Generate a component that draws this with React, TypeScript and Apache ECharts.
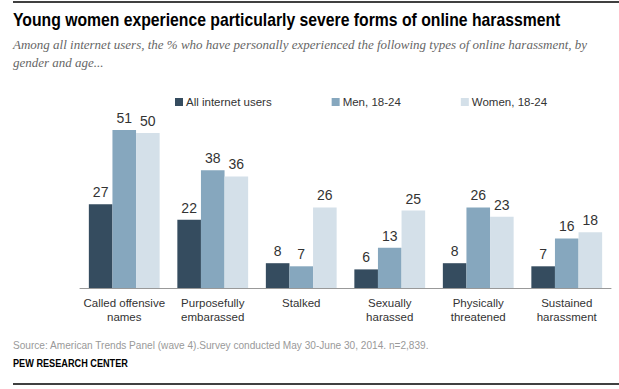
import React, { useEffect, useRef } from "react";
import * as echarts from "echarts";

const categories = [
  "Called offensive\nnames",
  "Purposefully\nembarassed",
  "Stalked",
  "Sexually\nharassed",
  "Physically\nthreatened",
  "Sustained\nharassment",
];
const allUsers = [27, 22, 8, 6, 8, 7];
const men1824 = [51, 38, 7, 13, 26, 16];
const women1824 = [50, 36, 26, 25, 23, 18];
const seriesNames = ["All internet users", "Men, 18-24", "Women, 18-24"];
const colors = ["#354C5F", "#86A7BE", "#D4E0E9"];

const title = "Young women experience particularly severe forms of online harassment";
const subtitle1 =
  "Among all internet users, the % who have personally experienced the following types of online harassment, by";
const subtitle2 = "gender and age...";
const source =
  "Source: American Trends Panel (wave 4).Survey conducted May 30-June 30, 2014. n=2,839.";
const credit = "PEW RESEARCH CENTER";

function fitScale(text: string, font: string, target: number) {
  const c = document.createElement("canvas").getContext("2d");
  if (!c) return 1;
  c.font = font;
  const w = c.measureText(text).width;
  return w > 0 ? target / w : 1;
}

export default function App() {
  const ref = useRef<HTMLDivElement>(null);
  useEffect(() => {
    document.body.style.margin = "0";
    if (!ref.current) return;
    const chart = echarts.init(ref.current, null, { renderer: "svg" });
    const values = [allUsers, men1824, women1824];
    const titleFont = "bold 19px 'Liberation Sans', Arial, sans-serif";
    const srcFont = "11px 'Liberation Sans', Arial, sans-serif";
    const creditFont = "bold 11px 'Liberation Sans', Arial, sans-serif";
    chart.setOption({
      animation: false,
      backgroundColor: "#fff",
      textStyle: { fontFamily: "Liberation Sans, Arial, sans-serif" },
      grid: { left: 80, right: 8, top: 102, bottom: 101 },
      legend: {
        top: 91,
        left: 170,
        itemWidth: 8,
        itemHeight: 8,
        itemGap: 60,
        icon: "rect",
        textStyle: { fontSize: 11.5, color: "#333", padding: [0, 0, 0, -2] },
        data: seriesNames,
      },
      xAxis: {
        type: "category",
        data: categories,
        axisLine: { lineStyle: { color: "#999", width: 1 } },
        axisTick: { show: false },
        axisLabel: { color: "#333", fontSize: 11.5, lineHeight: 14, margin: 8, interval: 0 },
      },
      yAxis: {
        type: "value",
        min: 0,
        max: 60,
        show: false,
        splitLine: { show: false },
      },
      series: seriesNames.map((name, i) => ({
        name,
        type: "bar",
        data: values[i],
        barGap: "0%",
        barCategoryGap: "20%",
        itemStyle: { color: colors[i] },
        label: {
          show: true,
          position: "top",
          distance: 5,
          fontSize: 14,
          color: "#333",
        },
      })),
      graphic: [
        { type: "line", shape: { x1: 13, y1: 2, x2: 619, y2: 2 }, style: { stroke: "#000", lineWidth: 1.5 } },
        { type: "line", shape: { x1: 13, y1: 384, x2: 619, y2: 384 }, style: { stroke: "#000", lineWidth: 1.5 } },
        {
          type: "text",
          x: 13,
          y: 10,
          scaleX: fitScale(title, titleFont, 548),
          style: { text: title, font: titleFont, fill: "#000" },
        },
        {
          type: "text",
          x: 13,
          y: 35,
          style: {
            text: subtitle1 + "\n" + subtitle2,
            font: "italic 13px 'Liberation Serif', serif",
            lineHeight: 18,
            fill: "#666",
          },
        },
        {
          type: "text",
          x: 13,
          y: 339,
          scaleX: fitScale(source, srcFont, 417),
          style: { text: source, font: srcFont, fill: "#999" },
        },
        {
          type: "text",
          x: 13,
          y: 358,
          scaleX: fitScale(credit, creditFont, 115),
          style: { text: credit, font: creditFont, fill: "#000" },
        },
      ],
    });
    return () => chart.dispose();
  }, []);
  return <div ref={ref} style={{ width: 619, height: 389 }} />;
}
